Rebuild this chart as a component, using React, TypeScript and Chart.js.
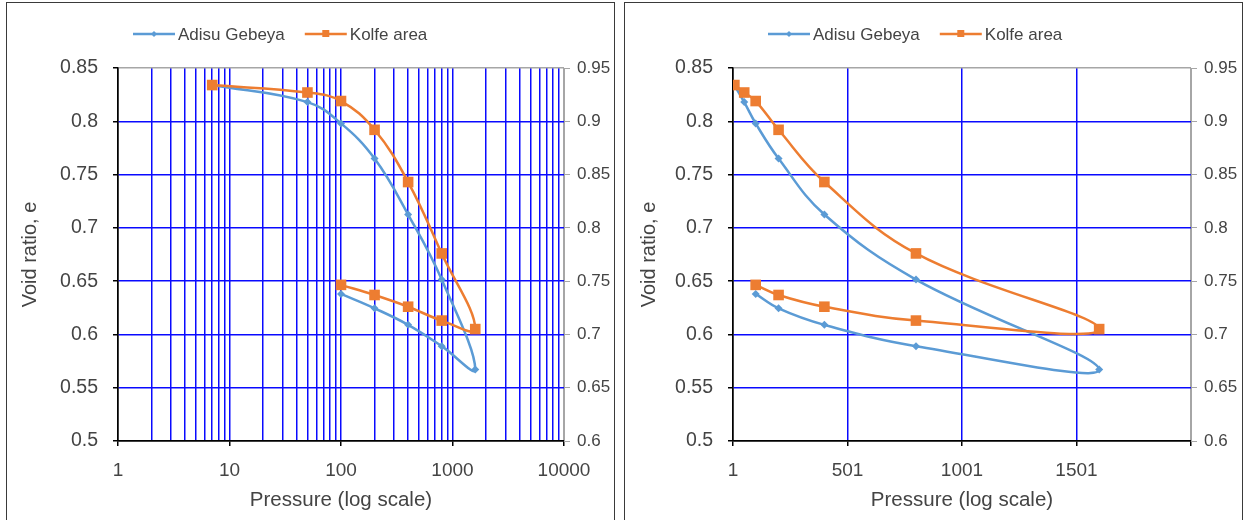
import React, { useEffect, useRef } from 'react';
import { Chart, registerables } from 'chart.js';

Chart.register(...registerables);

// ---- data ----
const pressureKPa = [7, 50, 100, 200, 400, 800, 1600, 800, 400, 200, 100];
const adisuGebeyaVoid = [0.834, 0.818, 0.798, 0.765, 0.7125, 0.6515, 0.567, 0.589, 0.609, 0.6245, 0.638];
const kolfeAreaVoid = [0.834, 0.827, 0.819, 0.792, 0.743, 0.676, 0.605, 0.613, 0.626, 0.637, 0.6465];
const seriesNames = ['Adisu Gebeya', 'Kolfe area'];
const seriesColors = ['#5B9BD5', '#ED7D31'];

// ---- axes ----
const leftAxisRange = [0.5, 0.85];
const rightAxisRange = [0.6, 0.95];
const yStep = 0.05;
const logDecades = [1, 10, 100, 1000];
const logMultipliers = [1, 2, 3, 4, 5, 6, 7, 8, 9];
const logMax = 10000;
const linearXTicks = [1, 501, 1001, 1501, 2001];
const linearXLabels = ['1', '501', '1001', '1501', ''];
const xTitle = 'Pressure (log scale)';
const yTitle = 'Void ratio, e';

const logTickValues: number[] = [];
logDecades.forEach((d) => logMultipliers.forEach((m) => logTickValues.push(d * m)));
logTickValues.push(logMax);

const FONT = "'Liberation Sans', Arial, sans-serif";
const TEXT = '#444444';
const GRID = 'rgb(10,10,255)';
const GRAY = '#a6a6a6';
const near = (a: number, b: number) => Math.abs(a - b) < 1e-6;
const isDecade = (v: number) => Math.abs(Math.log10(v) - Math.round(Math.log10(v))) < 1e-9;
const fmtY = (v: any) => String(Number(Number(v).toFixed(2)));

const legendPlugin = {
  id: 'customLegend',
  afterDraw(chart: any, _args: any, opts: any) {
    const ctx = chart.ctx;
    let x = opts.x;
    const y = opts.y;
    ctx.save();
    ctx.font = `${opts.size}px ${FONT}`;
    ctx.textBaseline = 'middle';
    chart.data.datasets.forEach((ds: any) => {
      ctx.strokeStyle = ds.borderColor;
      ctx.fillStyle = ds.borderColor;
      ctx.lineWidth = 2.5;
      ctx.beginPath();
      ctx.moveTo(x, y);
      ctx.lineTo(x + 42, y);
      ctx.stroke();
      const cx = x + 21;
      if (ds.pointStyle === 'rect') {
        ctx.fillRect(cx - 3.5, y - 4, 7, 7);
      } else {
        ctx.beginPath();
        ctx.moveTo(cx, y - 3);
        ctx.lineTo(cx + 3, y);
        ctx.lineTo(cx, y + 3);
        ctx.lineTo(cx - 3, y);
        ctx.closePath();
        ctx.fill();
      }
      ctx.fillStyle = TEXT;
      ctx.fillText(ds.label, x + 45, y + 1);
      x += 45 + ctx.measureText(ds.label).width + 20;
    });
    ctx.restore();
  },
};

function makeDatasets() {
  return [
    {
      label: seriesNames[0],
      data: pressureKPa.map((p, i) => ({ x: p, y: adisuGebeyaVoid[i] })),
      borderColor: seriesColors[0],
      backgroundColor: seriesColors[0],
      borderWidth: 2.5,
      pointStyle: 'rectRot',
      pointRadius: 4,
      pointBorderWidth: 0,
      tension: 0.4,
      order: 1,
      yAxisID: 'y',
    },
    {
      label: seriesNames[1],
      data: pressureKPa.map((p, i) => ({ x: p, y: kolfeAreaVoid[i] })),
      borderColor: seriesColors[1],
      backgroundColor: seriesColors[1],
      borderWidth: 2.5,
      pointStyle: 'rect',
      pointRadius: 7.5,
      pointBorderWidth: 0,
      tension: 0.4,
      order: 0,
      yAxisID: 'y',
    },
  ];
}

function makeYScales(leftW: number, rightW: number) {
  return {
    y: {
      type: 'linear',
      position: 'left',
      min: leftAxisRange[0],
      max: leftAxisRange[1],
      afterFit: (s: any) => {
        s.width = leftW;
      },
      ticks: {
        stepSize: yStep,
        color: TEXT,
        font: { family: FONT, size: 19.5 },
        padding: 15,
        callback: fmtY,
      },
      grid: {
        color: (c: any) => {
          const v = c.tick ? c.tick.value : 0;
          if (near(v, leftAxisRange[1])) return GRAY;
          if (near(v, leftAxisRange[0])) return '#000';
          return GRID;
        },
        lineWidth: 1.5,
        tickLength: 5,
        tickColor: '#000',
      },
      border: { color: '#000', width: 1.5 },
      title: {
        display: true,
        text: yTitle,
        color: TEXT,
        font: { family: FONT, size: 20 },
        padding: { top: 10, bottom: 0 },
      },
    },
    y2: {
      type: 'linear',
      position: 'right',
      min: rightAxisRange[0],
      max: rightAxisRange[1],
      afterFit: (s: any) => {
        s.width = rightW;
      },
      ticks: {
        stepSize: yStep,
        color: TEXT,
        font: { family: FONT, size: 17 },
        padding: 7,
        callback: fmtY,
      },
      grid: { drawOnChartArea: false, tickLength: 6, tickColor: GRAY, lineWidth: 1 },
      border: { color: GRAY, width: 1 },
    },
  };
}

function xCommon() {
  return {
    position: 'bottom',
    afterFit: (s: any) => {
      s.height = 79;
    },
    border: { color: '#000', width: 1.5 },
    title: {
      display: true,
      text: xTitle,
      color: TEXT,
      font: { family: FONT, size: 20.5 },
      padding: { top: 0, bottom: 7 },
    },
  };
}

function buildConfig(kind: 'log' | 'linear', leftW: number, rightW: number, legendX: number): any {
  const xBase: any = xCommon();
  let x: any;
  if (kind === 'log') {
    x = {
      ...xBase,
      type: 'logarithmic',
      min: 1,
      max: logMax,
      afterBuildTicks: (s: any) => {
        s.ticks = logTickValues.map((v) => ({ value: v, major: isDecade(v) }));
      },
      ticks: {
        autoSkip: false,
        maxRotation: 0,
        color: TEXT,
        font: { family: FONT, size: 19 },
        padding: 13,
        callback: (v: any) => (isDecade(Number(v)) ? String(v) : ''),
      },
      grid: {
        color: (c: any) => {
          const v = c.tick ? c.tick.value : 0;
          if (near(v, 1)) return '#000';
          if (near(v, logMax)) return GRAY;
          return GRID;
        },
        lineWidth: 1.5,
        tickLength: 5,
        tickColor: (c: any) => (c.tick && isDecade(c.tick.value) ? '#000' : 'rgba(0,0,0,0)'),
      },
    };
  } else {
    x = {
      ...xBase,
      type: 'linear',
      min: linearXTicks[0],
      max: linearXTicks[linearXTicks.length - 1],
      afterBuildTicks: (s: any) => {
        s.ticks = linearXTicks.map((v) => ({ value: v }));
      },
      ticks: {
        autoSkip: false,
        maxRotation: 0,
        color: TEXT,
        font: { family: FONT, size: 19 },
        padding: 13,
        callback: (_v: any, i: number) => linearXLabels[i],
      },
      grid: {
        color: (c: any) => {
          const v = c.tick ? c.tick.value : 0;
          if (near(v, linearXTicks[0])) return '#000';
          if (near(v, linearXTicks[linearXTicks.length - 1])) return GRAY;
          return GRID;
        },
        lineWidth: 1.5,
        tickLength: 5,
        tickColor: '#000',
      },
    };
  }
  return {
    type: 'line',
    data: { datasets: makeDatasets() },
    plugins: [legendPlugin],
    options: {
      responsive: false,
      animation: false,
      devicePixelRatio: 1,
      layout: { padding: { top: 64, left: 0, right: 0, bottom: 0 } },
      scales: { x, ...makeYScales(leftW, rightW) },
      plugins: {
        legend: { display: false },
        tooltip: { enabled: false },
        customLegend: { x: legendX, y: 30, size: 17 },
      },
    },
  };
}

function Panel(props: {
  kind: 'log' | 'linear';
  left: number;
  width: number;
  leftW: number;
  rightW: number;
  legendX: number;
}) {
  const ref = useRef<HTMLCanvasElement>(null);
  useEffect(() => {
    if (!ref.current) return;
    const chart = new Chart(ref.current, buildConfig(props.kind, props.leftW, props.rightW, props.legendX));
    return () => chart.destroy();
  }, []);
  return (
    <canvas
      ref={ref}
      width={props.width}
      height={516}
      style={{ position: 'absolute', left: props.left, top: 4, width: props.width, height: 516 }}
    />
  );
}

export default function App() {
  return (
    <div
      style={{
        position: 'absolute',
        left: 0,
        top: 0,
        width: 1245,
        height: 520,
        overflow: 'hidden',
        background: '#fff',
      }}
    >
      <div
        style={{
          position: 'absolute',
          left: 6,
          top: 2,
          width: 609,
          height: 560,
          boxSizing: 'border-box',
          border: '1.5px solid #3a3a3a',
        }}
      />
      <div
        style={{
          position: 'absolute',
          left: 624,
          top: 2,
          width: 619,
          height: 560,
          boxSizing: 'border-box',
          border: '1.5px solid #3a3a3a',
        }}
      />
      <Panel kind="log" left={8} width={605} leftW={110} rightW={49} legendX={125} />
      <Panel kind="linear" left={627} width={612} leftW={106} rightW={48} legendX={141} />
    </div>
  );
}
